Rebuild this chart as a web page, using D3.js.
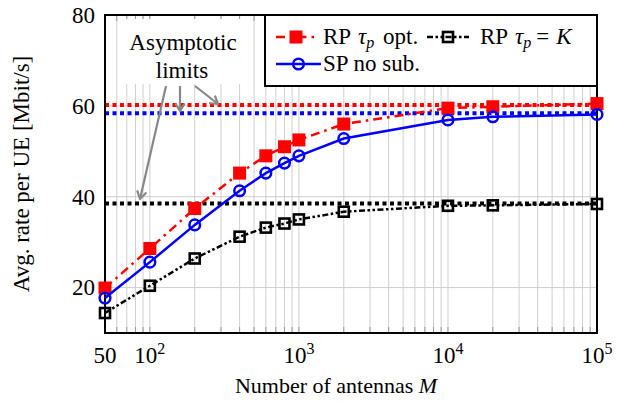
<!DOCTYPE html>
<html>
<head>
<meta charset="utf-8">
<script src="https://d3js.org/d3.v7.min.js"></script>
<style>
  body { margin: 0; background: #fff; }
  svg { font-family: "Liberation Serif", "DejaVu Serif", serif; }
</style>
</head>
<body>
<svg id="chart" width="620" height="407"></svg>
<script>
// data
const antennas = [50, 100, 200, 400, 600, 800, 1000, 2000, 10000, 20000, 100000];
const rpOpt   = [19.9, 28.6, 37.4, 45.2, 49.0, 51.0, 52.5, 56.0, 59.5, 59.8, 60.5];
const spNoSub = [17.7, 25.6, 33.8, 41.3, 45.2, 47.4, 49.0, 52.8, 56.9, 57.6, 58.1];
const rpK     = [14.4, 20.4, 26.4, 31.2, 33.2, 34.1, 35.0, 36.7, 38.0, 38.1, 38.4];
const limitValues = [60.2, 58.4, 38.5];   // RP opt, SP, RP tau=K
const yTicks = [20, 40, 60, 80];
const xTicks = [50, 100, 1000, 10000, 100000];
const xTickLabels = [["50", ""], ["10", "2"], ["10", "3"], ["10", "4"], ["10", "5"]];

const svg = d3.select("#chart");
const L = 105, R = 597, T = 15, B = 333;
const x = d3.scaleLog().domain([50, 1e5]).range([L, R]);
const y = d3.scaleLinear().domain([10, 80]).range([B, T]);
const fs = 23;

svg.append("rect").attr("width", 620).attr("height", 407).attr("fill", "#fff");

// grid
const grid = svg.append("g");
grid.selectAll(".vg").data(x.ticks()).join("line")
  .attr("x1", d => x(d)).attr("x2", d => x(d))
  .attr("y1", T).attr("y2", B)
  .attr("stroke", "#cfcfcf").attr("stroke-width", 1);
grid.selectAll(".hg").data([20, 40, 60]).join("line")
  .attr("x1", L).attr("x2", R)
  .attr("y1", d => y(d)).attr("y2", d => y(d))
  .attr("stroke", "#cfcfcf").attr("stroke-width", 1);
// small ticks on top and bottom
grid.selectAll(".tb").data(x.ticks()).join("line")
  .attr("x1", d => x(d)).attr("x2", d => x(d))
  .attr("y1", B).attr("y2", B - 6)
  .attr("stroke", "#999").attr("stroke-width", 1);
grid.selectAll(".tt").data(x.ticks()).join("line")
  .attr("x1", d => x(d)).attr("x2", d => x(d))
  .attr("y1", T).attr("y2", T + 6)
  .attr("stroke", "#999").attr("stroke-width", 1);

// asymptotic limits
const limitColors = ["#ff0000", "#0000ff", "#000000"];
svg.selectAll(".lim").data(limitValues).join("line")
  .attr("x1", L).attr("x2", R)
  .attr("y1", d => y(d)).attr("y2", d => y(d))
  .attr("stroke", (d, i) => limitColors[i])
  .attr("stroke-width", 4)
  .attr("stroke-dasharray", "4,3.5");

// frame
svg.append("rect").attr("x", L).attr("y", T).attr("width", R - L).attr("height", B - T)
  .attr("fill", "none").attr("stroke", "#000").attr("stroke-width", 2);

// series
const series = [
  { vals: rpK, color: "#000", dash: "6,2.5,2.5,2.5,2.5,2.5", mark: "sqOpen" },
  { vals: rpOpt, color: "#ff0000", dash: "9,5,2.5,5", mark: "sqFill" },
  { vals: spNoSub, color: "#0000ff", dash: null, mark: "circle" }
];
const line = d3.line().x(d => x(d[0])).y(d => y(d[1]));

function drawMark(g, type, cx, cy, color) {
  if (type === "sqFill") {
    g.append("rect").attr("x", cx - 6.5).attr("y", cy - 6.5).attr("width", 13).attr("height", 13)
      .attr("fill", color);
  } else if (type === "sqOpen") {
    g.append("rect").attr("x", cx - 5).attr("y", cy - 5).attr("width", 10).attr("height", 10)
      .attr("fill", "none").attr("stroke", color).attr("stroke-width", 2.6);
  } else {
    g.append("circle").attr("cx", cx).attr("cy", cy).attr("r", 5.3)
      .attr("fill", "none").attr("stroke", color).attr("stroke-width", 2.5);
  }
}

series.forEach(s => {
  const pts = antennas.map((a, i) => [a, s.vals[i]]);
  svg.append("path").datum(pts).attr("d", line)
    .attr("fill", "none").attr("stroke", s.color).attr("stroke-width", 2.5)
    .attr("stroke-dasharray", s.dash);
  const g = svg.append("g");
  pts.forEach(p => drawMark(g, s.mark, x(p[0]), y(p[1]), s.color));
});

// y axis labels
const yAxis = d3.axisLeft(y).tickValues(yTicks).tickSize(0).tickPadding(10);
const ya = svg.append("g").attr("transform", `translate(${L},0)`).call(yAxis);
ya.select(".domain").remove();
ya.selectAll("text").attr("font-size", fs).attr("font-family", "Liberation Serif").attr("fill", "#000");

// x axis labels
const xa = svg.append("g");
xTicks.forEach((t, i) => {
  const txt = xa.append("text").attr("x", x(t)).attr("y", 363)
    .attr("text-anchor", "middle").attr("font-size", fs);
  txt.append("tspan").text(xTickLabels[i][0]);
  if (xTickLabels[i][1]) {
    txt.append("tspan").attr("dy", -9).attr("font-size", 16).text(xTickLabels[i][1]);
  }
});

svg.append("text").attr("x", 336).attr("y", 393).attr("text-anchor", "middle")
  .attr("font-size", 22)
  .call(t => {
    t.append("tspan").text("Number of antennas ");
    t.append("tspan").attr("font-style", "italic").text("M");
  });

svg.append("text").attr("transform", `translate(29,${(T + B) / 2}) rotate(-90)`)
  .attr("text-anchor", "middle").attr("font-size", fs)
  .text("Avg. rate per UE [Mbit/s]");

// annotation
svg.append("rect").attr("x", 120).attr("y", 19).attr("width", 127).attr("height", 65).attr("fill", "#fff");
svg.append("text").attr("x", 183).attr("y", 50).attr("text-anchor", "middle").attr("font-size", fs)
  .text("Asymptotic");
svg.append("text").attr("x", 182).attr("y", 78).attr("text-anchor", "middle").attr("font-size", fs)
  .text("limits");

const arrows = [
  [[166, 86], [140, 199]],
  [[180, 86], [180, 111]],
  [[195, 86], [218, 104]]
];
arrows.forEach(([a, b]) => {
  svg.append("line").attr("x1", a[0]).attr("y1", a[1]).attr("x2", b[0]).attr("y2", b[1])
    .attr("stroke", "#888").attr("stroke-width", 2.2);
  const ang = Math.atan2(b[1] - a[1], b[0] - a[0]);
  const hl = 9, ha = 0.55;
  const p1 = [b[0] - hl * Math.cos(ang - ha), b[1] - hl * Math.sin(ang - ha)];
  const p2 = [b[0] - hl * Math.cos(ang + ha), b[1] - hl * Math.sin(ang + ha)];
  svg.append("path").attr("d", `M${p1}L${b}L${p2}`)
    .attr("fill", "none").attr("stroke", "#888").attr("stroke-width", 2.2)
    .attr("stroke-linejoin", "round");
});

// legend
const lg = svg.append("g");
lg.append("rect").attr("x", 265).attr("y", T).attr("width", R - 265).attr("height", 71)
  .attr("fill", "#fff").attr("stroke", "#000").attr("stroke-width", 2);

function legendEntry(x0, x1, yy, s, tx, build) {
  lg.append("line").attr("x1", x0).attr("x2", x1).attr("y1", yy).attr("y2", yy)
    .attr("stroke", s.color).attr("stroke-width", 2.5).attr("stroke-dasharray", s.dash);
  drawMark(lg, s.mark, (x0 + x1) / 2, yy, s.color);
  const t = lg.append("text").attr("x", tx).attr("y", yy + 7).attr("font-size", fs);
  build(t);
}
legendEntry(276, 316, 37, series[1], 323, t => {
  t.append("tspan").text("RP ");
  t.append("tspan").attr("font-style", "italic").attr("dx", 2).text("τ");
  t.append("tspan").attr("font-style", "italic").attr("font-size", 16).attr("dy", 4).text("p");
  t.append("tspan").attr("dy", -4).attr("dx", 3).text(" opt.");
});
legendEntry(427, 469, 37, series[0], 480, t => {
  t.append("tspan").text("RP ");
  t.append("tspan").attr("font-style", "italic").attr("dx", 2).text("τ");
  t.append("tspan").attr("font-style", "italic").attr("font-size", 16).attr("dy", 4).text("p");
  t.append("tspan").attr("dy", -4).attr("dx", 5).text("=");
  t.append("tspan").attr("font-style", "italic").attr("dx", 7).text("K");
});
legendEntry(276, 321, 64, series[2], 323, t => {
  t.append("tspan").text("SP no sub.");
});
</script>
</body>
</html>
